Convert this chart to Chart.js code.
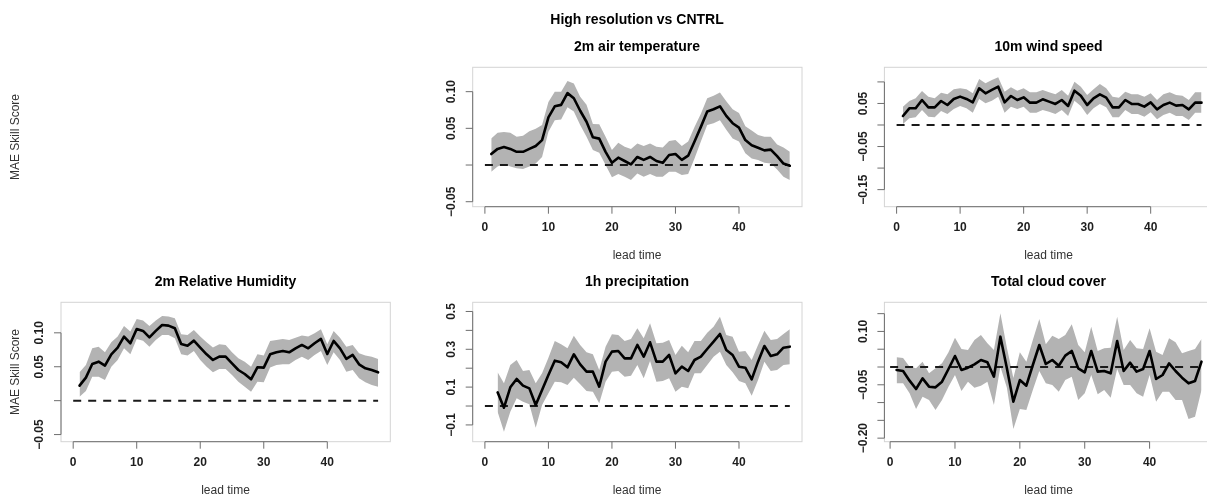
<!DOCTYPE html>
<html>
<head>
<meta charset="utf-8">
<script src="https://cdn.jsdelivr.net/npm/chart.js@4.4.1/dist/chart.umd.min.js"></script>
<style>
  html, body { margin: 0; padding: 0; background: #fff; width: 1207px; height: 496px; overflow: hidden; }
  #wrap { position: relative; width: 1207px; height: 496px; overflow: hidden; }
  canvas { position: absolute; left: 0; top: 0; }
  .t { position: absolute; white-space: nowrap; line-height: 1; transform: translate(-50%, -50%);
       font-family: "Liberation Sans", Arial, Helvetica, sans-serif; color: #000; }
  .title { font-weight: bold; font-size: 14px; }
  .lab { font-size: 12px; color: #333; }
  .rot { transform: translate(-50%, -50%) rotate(-90deg); }
</style>
</head>
<body>
<div id="wrap">
  <canvas id="cA" width="1220" height="496" style="width:1220px;height:496px"></canvas>
  <canvas id="cB" width="1220" height="496" style="width:1220px;height:496px"></canvas>
  <canvas id="cC" width="1220" height="496" style="width:1220px;height:496px"></canvas>
  <canvas id="cD" width="1220" height="496" style="width:1220px;height:496px"></canvas>
  <canvas id="cE" width="1220" height="496" style="width:1220px;height:496px"></canvas>

  <div class="t title" style="left:637px;top:18.5px">High resolution vs CNTRL</div>
  <div class="t title" style="left:637px;top:46px">2m air temperature</div>
  <div class="t title" style="left:1048.5px;top:46px">10m wind speed</div>
  <div class="t title" style="left:225.5px;top:281px">2m Relative Humidity</div>
  <div class="t title" style="left:637px;top:281px">1h precipitation</div>
  <div class="t title" style="left:1048.5px;top:281px">Total cloud cover</div>

  <div class="t lab" style="left:637px;top:255px">lead time</div>
  <div class="t lab" style="left:1048.5px;top:255px">lead time</div>
  <div class="t lab" style="left:225.5px;top:490px">lead time</div>
  <div class="t lab" style="left:637px;top:490px">lead time</div>
  <div class="t lab" style="left:1048.5px;top:490px">lead time</div>

  <div class="t lab rot" style="left:15px;top:137px">MAE Skill Score</div>
  <div class="t lab rot" style="left:15px;top:372px">MAE Skill Score</div>
</div>
<script>
// ---------------- data ----------------
const leadTimes = [1,2,3,4,5,6,7,8,9,10,11,12,13,14,15,16,17,18,19,20,21,22,23,24,25,26,27,28,29,30,31,32,33,34,35,36,37,38,39,40,41,42,43,44,45,46,47,48];
const leadTimesPrecip = [2,3,4,5,6,7,8,9,10,11,12,13,14,15,16,17,18,19,20,21,22,23,24,25,26,27,28,29,30,31,32,33,34,35,36,37,38,39,40,41,42,43,44,45,46,47,48];
const xTickValues = [0,10,20,30,40];
const xTickLabels = ["0","10","20","30","40"];
const refX = [0, 48];
const refY = [0, 0];

// 2m air temperature
const t2mMean  = [0.015,0.022,0.0245,0.022,0.018,0.018,0.022,0.026,0.034,0.065,0.080,0.082,0.098,0.091,0.074,0.059,0.038,0.036,0.018,0.003,0.010,0.0055,0.001,0.011,0.007,0.011,0.0055,0.003,0.0136,0.015,0.007,0.0127,0.032,0.052,0.073,0.076,0.080,0.067,0.057,0.051,0.034,0.027,0.0236,0.020,0.021,0.012,0.002,-0.001];
const t2mUpper = [0.036,0.044,0.045,0.044,0.0386,0.040,0.046,0.0495,0.0545,0.086,0.100,0.100,0.1145,0.111,0.093,0.082,0.056,0.0555,0.0386,0.0205,0.0305,0.025,0.022,0.0295,0.026,0.0295,0.025,0.024,0.0327,0.034,0.026,0.032,0.052,0.070,0.091,0.0945,0.099,0.087,0.076,0.071,0.053,0.047,0.041,0.0386,0.0386,0.028,0.024,0.018];
const t2mLower = [-0.009,-0.002,0.0014,-0.002,-0.0045,-0.0055,-0.002,0.002,0.011,0.0455,0.061,0.062,0.0786,0.073,0.0545,0.0386,0.0205,0.0168,0,-0.0168,-0.0123,-0.016,-0.0205,-0.0114,-0.016,-0.0123,-0.016,-0.016,-0.009,-0.009,-0.0136,-0.0123,0.009,0.032,0.0545,0.057,0.061,0.048,0.036,0.032,0.016,0.009,0.007,0.003,0.002,-0.006,-0.016,-0.0205];
const t2mYTicks = [-0.05,0,0.05,0.10];
const t2mYLabelValues = [-0.05,0.05,0.10];
const t2mYLabels = ["\u22120.05","0.05","0.10"];

// 10m wind speed
const ws10Mean  = [0.0209,0.0387,0.0387,0.058,0.041,0.041,0.0557,0.0464,0.0604,0.0658,0.0604,0.0526,0.0851,0.0735,0.0813,0.089,0.0526,0.0673,0.058,0.0642,0.0519,0.0519,0.0596,0.0542,0.0488,0.058,0.0441,0.0797,0.0681,0.0464,0.0619,0.0712,0.0635,0.041,0.041,0.058,0.0488,0.0488,0.0426,0.0526,0.0364,0.0464,0.0519,0.0449,0.0464,0.0364,0.0519,0.0519];
const ws10Upper = [0.0426,0.0557,0.0619,0.0789,0.0658,0.0619,0.0751,0.0712,0.0828,0.0851,0.0828,0.0735,0.1068,0.0967,0.1045,0.1107,0.0774,0.0875,0.0797,0.0851,0.0759,0.0759,0.0813,0.0759,0.0712,0.0813,0.0681,0.1006,0.089,0.0697,0.0828,0.0952,0.0851,0.0658,0.0635,0.0774,0.0712,0.0712,0.0658,0.0735,0.058,0.0712,0.0759,0.0697,0.0681,0.058,0.0759,0.0759];
const ws10Lower = [0.0023,0.0155,0.0178,0.0348,0.0193,0.0178,0.0325,0.0255,0.0372,0.0441,0.0387,0.0286,0.0604,0.0503,0.0565,0.0658,0.0286,0.0426,0.0372,0.0426,0.0286,0.0286,0.0348,0.031,0.0255,0.0348,0.0209,0.0565,0.0441,0.0232,0.0387,0.0488,0.041,0.0178,0.0178,0.0348,0.0255,0.0255,0.0193,0.0294,0.0132,0.0232,0.0286,0.0209,0.0209,0.0116,0.0286,0.0286];
const ws10YTicks = [-0.15,-0.10,-0.05,0,0.05,0.10];
const ws10YLabelValues = [-0.15,-0.05,0.05];
const ws10YLabels = ["\u22120.15","\u22120.05","0.05"];

// 2m relative humidity
const rh2mMean  = [0.0221,0.0339,0.0541,0.0575,0.0516,0.0683,0.0782,0.0944,0.0846,0.1057,0.1028,0.0934,0.1028,0.1116,0.1106,0.1067,0.0836,0.0811,0.0885,0.0782,0.0683,0.06,0.0649,0.0649,0.0551,0.0452,0.0393,0.0315,0.0492,0.0487,0.0683,0.0713,0.0733,0.0713,0.0772,0.0821,0.0772,0.0846,0.091,0.0688,0.088,0.0772,0.0615,0.0674,0.0536,0.0477,0.0452,0.0418];
const rh2mUpper = [0.0418,0.0526,0.0772,0.0796,0.0713,0.086,0.0944,0.1101,0.1018,0.1205,0.118,0.1101,0.118,0.1249,0.1239,0.1214,0.0978,0.0969,0.1042,0.0944,0.086,0.0782,0.0831,0.0821,0.0713,0.0624,0.0575,0.0501,0.0683,0.0664,0.088,0.0895,0.091,0.0895,0.0929,0.0959,0.0944,0.0993,0.1052,0.0831,0.1028,0.0929,0.0796,0.0821,0.0698,0.0664,0.0649,0.0615];
const rh2mLower = [0.0059,0.0143,0.0354,0.0354,0.0305,0.0501,0.06,0.0772,0.0683,0.091,0.0885,0.0796,0.0895,0.0969,0.0969,0.0919,0.0683,0.0664,0.0733,0.06,0.0501,0.0418,0.0467,0.0467,0.0379,0.028,0.0206,0.0133,0.028,0.027,0.0487,0.0526,0.0536,0.0536,0.06,0.0649,0.06,0.0674,0.0733,0.0526,0.0713,0.06,0.0428,0.0452,0.0329,0.027,0.0231,0.0206];
const rh2mYTicks = [-0.05,0,0.05,0.10];
const rh2mYLabelValues = [-0.05,0.05,0.10];
const rh2mYLabels = ["\u22120.05","0.05","0.10"];

// 1h precipitation (starts at lead time 2)
const pr1hMean  = [0.0723,-0.0088,0.0988,0.1429,0.1076,0.0935,0.0053,0.0847,0.164,0.2399,0.231,0.2046,0.2734,0.2205,0.1817,0.1817,0.1023,0.2346,0.2875,0.291,0.2522,0.2522,0.3228,0.261,0.3369,0.2346,0.2346,0.2698,0.1728,0.2081,0.1852,0.2434,0.261,0.3016,0.3404,0.381,0.2963,0.2698,0.2081,0.2028,0.1411,0.2346,0.3175,0.2646,0.2734,0.3086,0.3139];
const pr1hUpper = [0.1781,0.1199,0.2169,0.2434,0.1852,0.1905,0.1199,0.1728,0.2557,0.3439,0.3263,0.3051,0.3721,0.3228,0.284,0.2734,0.1905,0.3139,0.3792,0.3757,0.3439,0.3545,0.4109,0.358,0.4374,0.3316,0.3351,0.3492,0.2698,0.3192,0.284,0.3439,0.3439,0.388,0.4198,0.4727,0.3757,0.3668,0.2875,0.291,0.2434,0.3228,0.3986,0.3492,0.3545,0.381,0.4056];
const pr1hLower = [-0.03,-0.1358,-0.03,0.0406,0.0229,0.0088,-0.1146,0.0053,0.067,0.1287,0.1252,0.1111,0.1499,0.1146,0.0794,0.0758,0.0141,0.1287,0.1817,0.1852,0.1552,0.1605,0.2169,0.1464,0.2381,0.1287,0.1323,0.1464,0.0758,0.1023,0.0935,0.1728,0.1728,0.2169,0.261,0.2875,0.2169,0.1781,0.1323,0.1199,0.0547,0.1376,0.2346,0.1852,0.1905,0.2169,0.2205];
const pr1hYTicks = [-0.1,0,0.1,0.2,0.3,0.4,0.5];
const pr1hYLabelValues = [-0.1,0.1,0.3,0.5];
const pr1hYLabels = ["\u22120.1","0.1","0.3","0.5"];

// total cloud cover
const tccMean  = [-0.0084,-0.0113,-0.0384,-0.0619,-0.0319,-0.0553,-0.0572,-0.0412,-0.0056,0.0309,-0.0084,-0.0019,0.0075,0.0197,0.0131,-0.0272,0.0853,-0.0038,-0.0975,-0.0366,-0.0525,0.0056,0.0619,0.0084,0.0197,0.0037,0.0319,0.045,-0.0038,-0.015,0.045,-0.0131,-0.0113,-0.0178,0.0731,-0.0113,0.0122,-0.0131,-0.0056,0.045,-0.0337,-0.0225,0.0103,-0.0113,-0.03,-0.0459,-0.0394,0.015];
const tccUpper = [0.0272,0.0253,0.0009,-0.0038,0.015,-0.0178,-0.0038,0.0103,0.0412,0.0825,0.0506,0.0478,0.0759,0.09,0.0666,0.0478,0.1509,0.0544,-0.031,0.0412,0.015,0.0759,0.135,0.0637,0.0881,0.0787,0.09,0.12,0.0619,0.0412,0.1134,0.045,0.0525,0.0544,0.1416,0.0478,0.0759,0.0525,0.0506,0.1088,0.0431,0.0337,0.0806,0.0694,0.0384,0.045,0.0506,0.0787];
const tccLower = [-0.0459,-0.0459,-0.0741,-0.1181,-0.0834,-0.0928,-0.1209,-0.0928,-0.0553,-0.0225,-0.0675,-0.0412,-0.0581,-0.0525,-0.0412,-0.1069,0.0009,-0.0581,-0.1744,-0.1181,-0.1209,-0.0647,-0.0113,-0.0459,-0.0506,-0.0694,-0.0366,-0.0272,-0.0928,-0.0741,-0.0225,-0.0769,-0.0647,-0.0862,-0.0056,-0.0506,-0.0506,-0.0741,-0.0834,-0.0225,-0.0975,-0.0694,-0.0694,-0.0928,-0.0928,-0.1462,-0.1397,-0.0647];
const tccYTicks = [-0.20,-0.15,-0.10,-0.05,0,0.05,0.10,0.15];
const tccYLabelValues = [-0.20,-0.05,0.10];
const tccYLabels = ["\u22120.20","\u22120.05","0.10"];

// ---------------- drawing ----------------
const CW = 1220, CH = 496;
const FONT = '"Liberation Sans", Arial, Helvetica, sans-serif';

function pts(xs, ys) { return xs.map((x, i) => ({ x: x, y: ys[i] })); }

function rAxesPlugin(spec) {
  return {
    id: 'rAxes',
    beforeDatasetsDraw(chart) {
      const { ctx, chartArea: a } = chart;
      ctx.save();
      ctx.strokeStyle = '#d4d4d4';
      ctx.lineWidth = 1;
      ctx.strokeRect(a.left, a.top, a.right - a.left, a.bottom - a.top);
      ctx.restore();
    },
    afterDatasetsDraw(chart) {
      const { ctx, chartArea: a, scales } = chart;
      const xs = scales.x, ys = scales.y;
      ctx.save();
      ctx.strokeStyle = '#6e6e6e';
      ctx.lineWidth = 1;
      ctx.beginPath();
      const xp = xTickValues.map(v => xs.getPixelForValue(v));
      ctx.moveTo(xp[0], a.bottom);
      ctx.lineTo(xp[xp.length - 1], a.bottom);
      xp.forEach(p => { ctx.moveTo(p, a.bottom); ctx.lineTo(p, a.bottom + 7); });
      const yp = spec.yTicks.map(v => ys.getPixelForValue(v));
      ctx.moveTo(a.left, Math.min.apply(null, yp));
      ctx.lineTo(a.left, Math.max.apply(null, yp));
      yp.forEach(p => { ctx.moveTo(a.left, p); ctx.lineTo(a.left - 7, p); });
      ctx.stroke();

      ctx.fillStyle = '#1e1e1e';
      ctx.font = 'bold 12px ' + FONT;
      ctx.textAlign = 'center';
      ctx.textBaseline = 'middle';
      xTickValues.forEach((v, i) => ctx.fillText(xTickLabels[i], xp[i], a.bottom + 21));
      spec.yLabelValues.forEach((v, i) => {
        const p = ys.getPixelForValue(v);
        ctx.save();
        ctx.translate(a.left - 21, p);
        ctx.rotate(-Math.PI / 2);
        ctx.fillText(spec.yLabels[i], 0, 0);
        ctx.restore();
      });
      ctx.restore();
    }
  };
}

function makePanel(spec) {
  const b = spec.box;
  new Chart(document.getElementById(spec.id), {
    type: 'line',
    data: {
      datasets: [
        { data: pts(spec.lead, spec.mean), borderColor: '#000', borderWidth: 2.6, pointRadius: 0,
          fill: false, tension: 0, borderJoinStyle: 'round', borderCapStyle: 'round' },
        { data: pts(refX, refY), borderColor: '#1a1a1a', borderWidth: 2, borderDash: [8, 7],
          pointRadius: 0, fill: false, tension: 0 },
        { data: pts(spec.lead, spec.upper), borderColor: 'rgba(0,0,0,0)', borderWidth: 0, pointRadius: 0,
          fill: '+1', backgroundColor: '#b3b3b3', tension: 0 },
        { data: pts(spec.lead, spec.lower), borderColor: 'rgba(0,0,0,0)', borderWidth: 0, pointRadius: 0,
          fill: false, tension: 0 }
      ]
    },
    options: {
      responsive: false,
      animation: false,
      devicePixelRatio: 1,
      events: [],
      layout: { padding: { left: b[0], top: b[1], right: CW - b[2], bottom: CH - b[3] } },
      plugins: { legend: { display: false }, tooltip: { enabled: false }, title: { display: false } },
      scales: {
        x: { type: 'linear', min: spec.xRange[0], max: spec.xRange[1], display: false },
        y: { type: 'linear', min: spec.yRange[0], max: spec.yRange[1], display: false }
      }
    },
    plugins: [rAxesPlugin(spec)]
  });
}

const topRow = [67.3, 206.7], botRow = [302.3, 441.7];
const col1 = [61, 390.3], col2 = [472.7, 802], col3 = [884.4, 1213.7];

makePanel({ id: 'cA', box: [col2[0], topRow[0], col2[1], topRow[1]], xRange: [-1.92, 49.92], yRange: [-0.0568, 0.1332],
  lead: leadTimes, mean: t2mMean, upper: t2mUpper, lower: t2mLower,
  yTicks: t2mYTicks, yLabelValues: t2mYLabelValues, yLabels: t2mYLabels });
makePanel({ id: 'cB', box: [col3[0], topRow[0], col3[1], topRow[1]], xRange: [-1.92, 49.92], yRange: [-0.1896, 0.1339],
  lead: leadTimes, mean: ws10Mean, upper: ws10Upper, lower: ws10Lower,
  yTicks: ws10YTicks, yLabelValues: ws10YLabelValues, yLabels: ws10YLabels });
makePanel({ id: 'cC', box: [col1[0], botRow[0], col1[1], botRow[1]], xRange: [-1.92, 49.92], yRange: [-0.0605, 0.145],
  lead: leadTimes, mean: rh2mMean, upper: rh2mUpper, lower: rh2mLower,
  yTicks: rh2mYTicks, yLabelValues: rh2mYLabelValues, yLabels: rh2mYLabels });
makePanel({ id: 'cD', box: [col2[0], botRow[0], col2[1], botRow[1]], xRange: [-1.92, 49.92], yRange: [-0.1887, 0.5485],
  lead: leadTimesPrecip, mean: pr1hMean, upper: pr1hUpper, lower: pr1hLower,
  yTicks: pr1hYTicks, yLabelValues: pr1hYLabelValues, yLabels: pr1hYLabels });
makePanel({ id: 'cE', box: [col3[0], botRow[0], col3[1], botRow[1]], xRange: [-0.88, 49.88], yRange: [-0.21, 0.1819],
  lead: leadTimes, mean: tccMean, upper: tccUpper, lower: tccLower,
  yTicks: tccYTicks, yLabelValues: tccYLabelValues, yLabels: tccYLabels });
</script>
</body>
</html>
